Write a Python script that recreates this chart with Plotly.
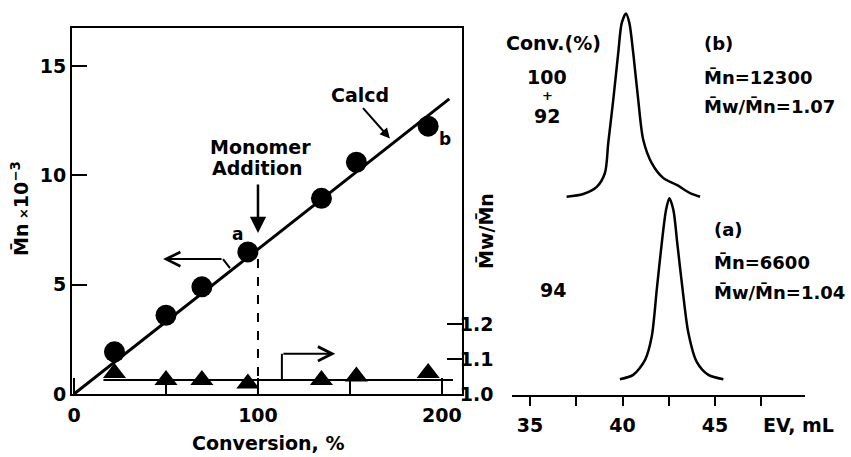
import plotly.graph_objects as go

# ---------------- data ----------------
conversion = [22, 50, 69.5, 94.5, 134.5, 153.5, 192.5]          # %
mn_e3 = [1.93, 3.6, 4.9, 6.5, 8.95, 10.6, 12.25]                 # Mn x 10^-3
mw_mn = [1.06, 1.04, 1.04, 1.03, 1.04, 1.05, 1.06]               # Mw/Mn

calcd_conv = [0, 204]
calcd_mn = [0, 13.5]

pdi_line_conv = [16, 206]
pdi_line_val = [1.04, 1.04]

monomer_addition_conv = 100
monomer_addition_mn = 6.6

# GPC traces (elution volume, mL ; detector response, arbitrary units)
ev_b = [36.98, 37.88, 38.61, 39.05, 39.23, 39.50, 39.77, 39.96, 40.19, 40.37,
        40.58, 40.85, 41.12, 41.58, 42.21, 42.93, 43.65, 44.19]
resp_b = [50.2, 50.9, 52.7, 56.2, 63.8, 74.7, 86.6, 94.2, 96.6, 94.2,
          86.6, 74.7, 64.6, 58.7, 54.9, 53.2, 51.1, 50.2]
ev_a = [39.86, 40.58, 41.22, 41.58, 41.85, 42.12, 42.35, 42.53, 42.75, 42.96,
        43.25, 43.56, 44.01, 44.64, 45.45]
resp_a = [4.0, 5.1, 8.9, 14.8, 26.6, 38.4, 46.8, 49.8, 46.8, 38.4,
          26.6, 15.7, 8.4, 5.1, 4.0]

x_ticks_left = [0, 100, 200]
y_ticks_left = [0, 5, 10, 15]
y_ticks_right = [1.0, 1.1, 1.2]
ev_ticks = [35, 40, 45]

# ---------------- helpers ----------------
W, H = 851, 457
def px(x):
    return x / W
def py(y):
    return 1 - y / H

FONT = dict(family="DejaVu Sans", size=19, color="black", weight="bold")
BLK = "black"

fig = go.Figure()

# Calcd line
fig.add_trace(go.Scatter(x=calcd_conv, y=calcd_mn, mode="lines",
                         line=dict(color=BLK, width=3), xaxis="x", yaxis="y",
                         hoverinfo="skip"))
# Mn points
fig.add_trace(go.Scatter(x=conversion, y=mn_e3, mode="markers",
                         marker=dict(symbol="circle", size=21, color=BLK),
                         xaxis="x", yaxis="y"))
# Mw/Mn line and points
fig.add_trace(go.Scatter(x=pdi_line_conv, y=pdi_line_val, mode="lines",
                         line=dict(color=BLK, width=2.2), xaxis="x", yaxis="y2",
                         hoverinfo="skip"))
fig.add_trace(go.Scatter(x=conversion, y=mw_mn, mode="markers",
                         marker=dict(symbol="triangle-up", size=20, color=BLK),
                         xaxis="x", yaxis="y2"))
# GPC curves
fig.add_trace(go.Scatter(x=ev_b, y=resp_b, mode="lines",
                         line=dict(color=BLK, width=2.5, shape="spline", smoothing=0.8),
                         xaxis="x3", yaxis="y3"))
fig.add_trace(go.Scatter(x=ev_a, y=resp_a, mode="lines",
                         line=dict(color=BLK, width=2.5, shape="spline", smoothing=0.8),
                         xaxis="x3", yaxis="y3"))

axis_common = dict(showgrid=False, zeroline=False, showline=True, linecolor=BLK,
                   linewidth=2, tickcolor=BLK, tickwidth=2, tickfont=FONT,
                   automargin=False)

fig.update_layout(
    template="none",
    width=W, height=H, autosize=False,
    margin=dict(l=0, r=0, t=0, b=0, pad=0),
    paper_bgcolor="white", plot_bgcolor="white",
    showlegend=False,
    xaxis=dict(domain=[px(72), px(462)], range=[-1.09, 210.9], anchor="y",
               tickvals=x_ticks_left, ticks="inside", ticklen=16, mirror=True,
               minor=dict(tickvals=[50, 150], ticks="inside", ticklen=16,
                          tickwidth=2, tickcolor=BLK),
               ticklabelstandoff=3, **axis_common),
    yaxis=dict(domain=[py(394), py(28)], range=[0, 16.74], anchor="x",
               tickvals=y_ticks_left, ticks="inside", ticklen=15, mirror=True,
               ticklabelstandoff=0, **axis_common),
    yaxis2=dict(domain=[py(394), py(28)], range=[1.0, 2.046], overlaying="y",
                side="right", anchor="x", tickvals=y_ticks_right,
                ticktext=["1.0", "1.1", "1.2"], ticks="inside", ticklen=15,
                ticklabelstandoff=-8, **axis_common),
    xaxis3=dict(domain=[px(512), px(805)], range=[34.03, 49.86], anchor="y3",
                tickvals=ev_ticks, ticks="outside", ticklen=9,
                minor=dict(tickvals=[37.5, 42.5, 47.5], ticks="outside", ticklen=9,
                           tickwidth=2, tickcolor=BLK),
                ticklabelstandoff=3, **axis_common),
    yaxis3=dict(domain=[py(395), 1.0], range=[0, 100], anchor="x3", visible=False),
)

# shapes: dashed line at monomer addition, connector lines
fig.add_shape(type="line", xref="x", yref="y",
              x0=monomer_addition_conv, x1=monomer_addition_conv,
              y0=0, y1=monomer_addition_mn, line=dict(color=BLK, width=2, dash="dash"))
fig.add_shape(type="line", xref="x", yref="y", x0=84.8, y0=5.76, x1=81, y1=6.17,
              line=dict(color=BLK, width=2))
fig.add_shape(type="line", xref="x", yref="y2", x0=113, y0=1.04, x1=113, y1=1.115,
              line=dict(color=BLK, width=2))

def note(text, x, y, xanchor="center", size=19, angle=0):
    f = dict(FONT); f["size"] = size
    fig.add_annotation(text=text, x=px(x), y=py(y), xref="paper", yref="paper",
                       xanchor=xanchor, yanchor="middle", showarrow=False,
                       font=f, textangle=angle)

# arrows
fig.add_annotation(x=monomer_addition_conv, y=7.36, ax=monomer_addition_conv, ay=9.65,
                   xref="x", yref="y", axref="x", ayref="y", text="", showarrow=True,
                   arrowhead=2, arrowsize=1.3, arrowwidth=2.5, arrowcolor=BLK)
fig.add_annotation(x=171.7, y=11.69, ax=156.4, ay=13.14,
                   xref="x", yref="y", axref="x", ayref="y", text="", showarrow=True,
                   arrowhead=2, arrowsize=1.0, arrowwidth=2, arrowcolor=BLK)
fig.add_annotation(x=48.4, y=6.17, ax=81, ay=6.17,
                   xref="x", yref="y", axref="x", ayref="y", text="", showarrow=True,
                   arrowhead=5, arrowsize=1.4, arrowwidth=2, arrowcolor=BLK)
fig.add_annotation(x=142, y=1.115, ax=113, ay=1.115,
                   xref="x", yref="y2", axref="x", ayref="y2", text="", showarrow=True,
                   arrowhead=5, arrowsize=1.4, arrowwidth=2, arrowcolor=BLK)

# texts
note("M\u0304n<span style='font-size:13px'> \u00d7</span>10<sup>\u22123</sup>",
     20, 209, angle=-90)
note("M\u0304w/M\u0304n", 486, 231, angle=-90)
note("Conversion, %", 268, 443)
note("EV, mL", 798, 425)
note("Monomer", 260, 147)
note("Addition", 257, 168)
note("Calcd", 360, 95)
note("a", 238, 234, size=17)
note("b", 445, 139, size=17)
note("Conv.(%)", 553, 43)
note("100", 547, 77)
note("+", 547, 96, size=13)
note("92", 547, 116)
note("94", 553, 290)
note("(b)", 702, 43, xanchor="left", size=18)
note("M\u0304n=12300", 702, 78, xanchor="left", size=18)
note("M\u0304w/M\u0304n=1.07", 702, 106, xanchor="left", size=18)
note("(a)", 712, 230, xanchor="left", size=18)
note("M\u0304n=6600", 712, 262, xanchor="left", size=18)
note("M\u0304w/M\u0304n=1.04", 712, 292, xanchor="left", size=18)

fig.write_html("out.html")
